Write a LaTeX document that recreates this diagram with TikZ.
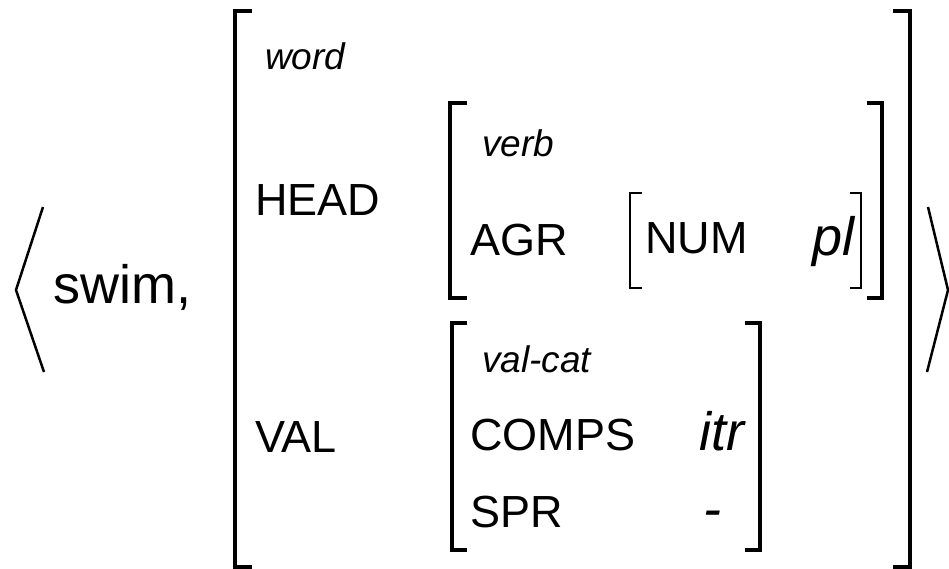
\documentclass[tikz,border=0pt]{standalone}
\usepackage{fontspec}
\setmainfont{Liberation Sans}

\tikzset{
  feat/.style={anchor=base west, inner sep=0pt, font=\fontsize{45}{45}\selectfont},
  sort/.style={anchor=base west, inner sep=0pt, font=\fontsize{37}{37}\selectfont\itshape},
  atom/.style={anchor=base west, inner sep=0pt, font=\fontsize{54}{54}\selectfont\itshape},
  outerbr/.style={draw, line width=4pt},
  innerbr/.style={draw, line width=3.3pt},
  numbr/.style={draw, line width=2.7pt},
  angle/.style={draw, line width=2.5pt}}

\begin{document}
\begin{tikzpicture}
[x=1pt, y=-1pt]
\useasboundingbox (0,0) rectangle (949,569);

\draw [angle] (43,207) -- (16,290) -- (44,372);
\node (swim) at (53,303) [feat, font=\fontsize{54}{54}\selectfont] {swim,};

\draw [outerbr] (252,11) -| (235,567) -- (252,567);
\draw [outerbr] (893,11) -| (910,567) -- (893,567);
\draw [angle] (928,207) -- (948,290) -- (927,372);

\node (word) at (265,70) [sort] {word};
\node (head) at (255,215) [feat] {HEAD};
\node (val) at (255,452) [feat] {VAL};

\draw [innerbr] (467,103) -| (450,298) -- (467,298);
\draw [innerbr] (867,103) -| (882,298) -- (867,298);
\node (verb) at (482,157) [sort] {verb};
\node (agr) at (470,255) [feat] {AGR};

\draw [numbr] (642,193) -| (630,288) -- (642,288);
\draw [numbr] (850,193) -| (861,288) -- (850,288);
\node (num) at (645,253) [feat] {NUM};
\node (pl) at (855,255) [atom, anchor=base east] {pl};

\draw [innerbr] (467,323) -| (452,550) -- (467,550);
\draw [innerbr] (745,323) -| (760,550) -- (745,550);
\node (valcat) at (482,372) [sort] {val-cat};
\node (comps) at (470,450) [feat] {COMPS};
\node (itr) at (699,450) [atom] {itr};
\node (spr) at (470,527) [feat] {SPR};
\node (minus) at (703,527) [atom] {-};
\end{tikzpicture}
\end{document}
